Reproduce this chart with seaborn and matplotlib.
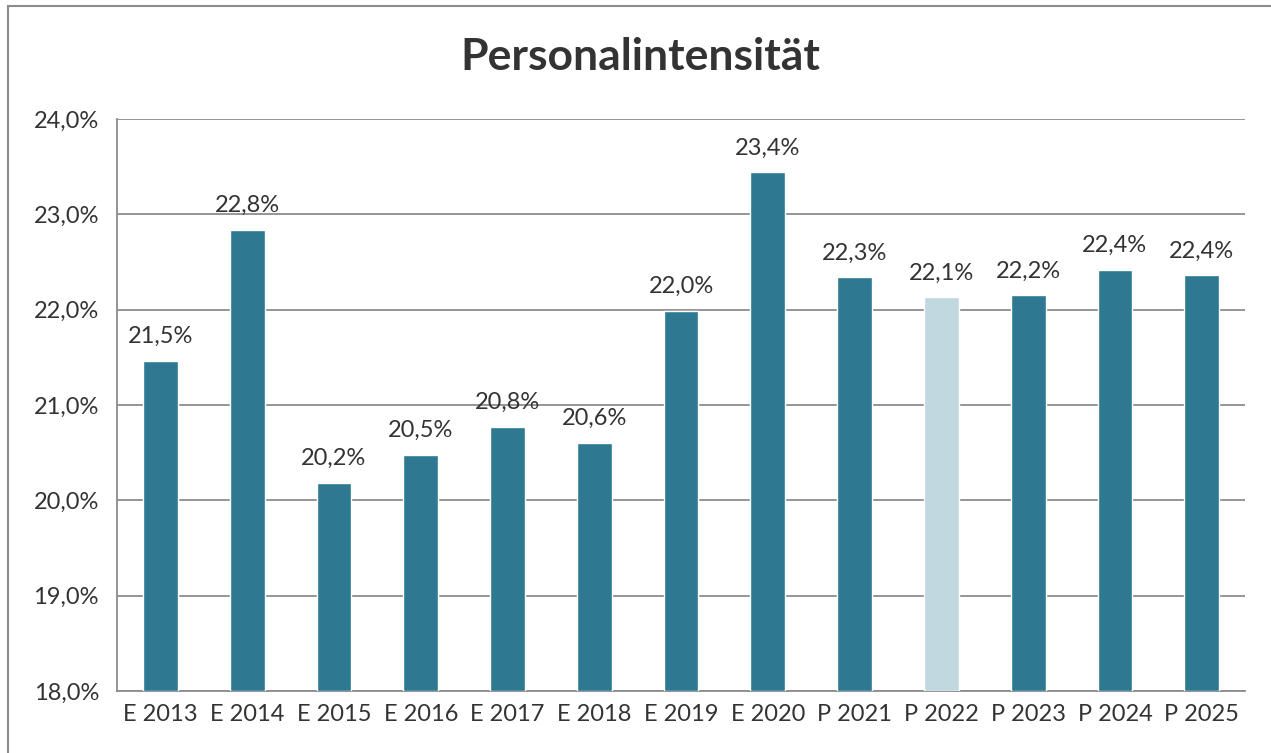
import numpy as np
import pandas as pd
import matplotlib.pyplot as plt
import matplotlib.patches as mpatches
import seaborn as sns

# ---------- data ----------
categories = ["E 2013", "E 2014", "E 2015", "E 2016", "E 2017", "E 2018", "E 2019",
              "E 2020", "P 2021", "P 2022", "P 2023", "P 2024", "P 2025"]
values = [21.46, 22.84, 20.18, 20.48, 20.77, 20.60, 21.99,
          23.44, 22.34, 22.13, 22.15, 22.42, 22.36]
labels = ["21,5%", "22,8%", "20,2%", "20,5%", "20,8%", "20,6%", "22,0%",
          "23,4%", "22,3%", "22,1%", "22,2%", "22,4%", "22,4%"]
highlight = "P 2022"

DARK = "#2E7891"
LIGHT = "#C2D8E0"
GRID = "#8C8C8C"
TEXT = "#333333"

sns.set_style("white")
plt.rcParams["font.family"] = ["Lato", "DejaVu Sans"]

df = pd.DataFrame({"cat": categories, "val": values})
colors = [LIGHT if c == highlight else DARK for c in categories]

fig = plt.figure(figsize=(12.71, 7.53), dpi=100)
ax = fig.add_axes([0.0921, 0.0823, 0.8875, 0.7597])

sns.barplot(data=df, x="cat", y="val", hue="cat", palette=colors, legend=False,
            width=0.4, saturation=1, ax=ax, zorder=3)
# bars start at 18 (axis floor)
for p, v in zip(ax.patches, values):
    p.set_y(18)
    p.set_height(v - 18)

ax.set_ylim(18, 24)
ax.set_xlim(-0.5, len(categories) - 0.5)
ax.set_yticks(np.arange(18, 24.01, 1))
ax.set_yticklabels([f"{t:.1f}%".replace(".", ",") for t in np.arange(18, 24.01, 1)])
ax.yaxis.grid(True, color=GRID, linewidth=1.3, zorder=0)
ax.set_xlabel("")
ax.set_ylabel("")

for s in ["top", "right"]:
    ax.spines[s].set_visible(False)
for s in ["left", "bottom"]:
    ax.spines[s].set_color(GRID)
    ax.spines[s].set_linewidth(1.3)

# category separators as minor ticks
ax.set_xticks(np.arange(-0.5, len(categories), 1), minor=True)
ax.tick_params(axis="x", which="minor", length=8, color=GRID, width=1.3)
ax.tick_params(axis="x", which="major", length=0, labelsize=17, colors=TEXT, pad=9)
ax.tick_params(axis="y", length=8, color=GRID, width=1.3, labelsize=17, colors=TEXT, pad=5)

for i, (v, lab) in enumerate(zip(values, labels)):
    ax.annotate(lab, (i, v), xytext=(0, 10), textcoords="offset points",
                ha="center", va="bottom", fontsize=17, color=TEXT)

fig.text(0.504, 0.924, "Personalintensität", ha="center", va="center",
         fontsize=32, fontweight="bold", color=TEXT)

fig.patches.append(mpatches.Rectangle((8 / 1271, -0.05), 1.1, 1.05 - 6 / 753,
                                      transform=fig.transFigure, fill=False,
                                      edgecolor=GRID, linewidth=1.5))

fig.savefig("out.png", dpi=100)
